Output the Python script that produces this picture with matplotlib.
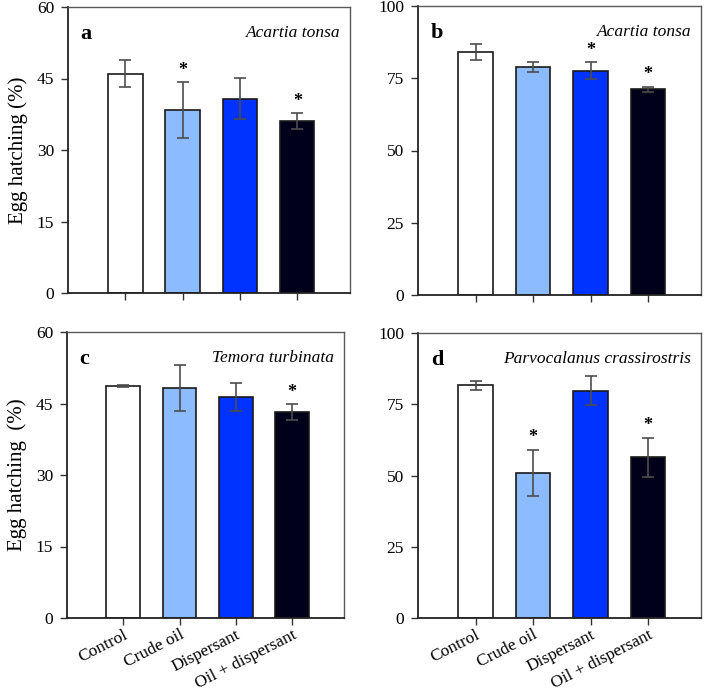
import matplotlib
matplotlib.use("Agg")
import matplotlib.pyplot as plt
import numpy as np

plt.rcParams['font.family'] = ['Liberation Serif', 'DejaVu Serif']

categories = ["Control", "Crude oil", "Dispersant", "Oil + dispersant"]
colors = ["#ffffff", "#8dbbff", "#0033ff", "#00001a"]

a_vals = [46.0, 38.4, 40.8, 36.1]
a_err = [2.8, 5.8, 4.3, 1.6]
a_sig = [False, True, False, True]

b_vals = [84.0, 78.9, 77.6, 71.2]
b_err = [2.7, 1.7, 3.0, 0.8]
b_sig = [False, False, True, True]

c_vals = [48.7, 48.2, 46.4, 43.2]
c_err = [0.2, 4.8, 2.9, 1.6]
c_sig = [False, False, False, True]

d_vals = [81.7, 50.9, 79.8, 56.4]
d_err = [1.6, 8.1, 5.0, 6.8]
d_sig = [False, True, False, True]

panels = [
    ("a", "Acartia tonsa", a_vals, a_err, a_sig, 60, [0, 15, 30, 45, 60], "Egg hatching (%)"),
    ("b", "Acartia tonsa", b_vals, b_err, b_sig, 100, [0, 25, 50, 75, 100], None),
    ("c", "Temora turbinata", c_vals, c_err, c_sig, 60, [0, 15, 30, 45, 60], "Egg hatching  (%)"),
    ("d", "Parvocalanus crassirostris", d_vals, d_err, d_sig, 100, [0, 25, 50, 75, 100], None),
]

W, H = 708, 694
fig = plt.figure(figsize=(W / 100, H / 100), dpi=100)

boxes = [(68, 7, 350, 293), (418, 6, 701, 295), (67, 332, 344, 618), (418, 333, 701, 618)]

for i, (box, p) in enumerate(zip(boxes, panels)):
    l, t, r, b = box
    ax = fig.add_axes([l / W, 1 - b / H, (r - l) / W, (b - t) / H])
    letter, species, vals, errs, sig, ymax, yticks, ylab = p
    x = np.arange(len(categories))
    ax.bar(x, vals, width=0.6, color=colors, edgecolor="#1a1a1a", linewidth=1.2, zorder=2)
    ax.errorbar(x, vals, yerr=errs, fmt="none", ecolor="#4d4d4d", elinewidth=1.2,
                capsize=4.5, capthick=1.2, zorder=3)
    for xi, v, e, s in zip(x, vals, errs, sig):
        if s:
            ax.text(xi, v + e + ymax * 0.012, "*", ha="center", va="bottom",
                    fontsize=13, fontweight="bold")
    ax.set_xlim(-1.0, 3.92)
    ax.set_ylim(0, ymax)
    ax.set_yticks(yticks)
    ax.set_yticklabels([str(v) for v in yticks], fontsize=12.5)
    ax.set_xticks(x)
    if i >= 2:
        ax.set_xticklabels(categories, rotation=27, ha="right", rotation_mode="anchor",
                           fontsize=12.5)
    else:
        ax.set_xticklabels([])
    ax.tick_params(axis="both", direction="out", length=5, width=1, color="#333333")
    ax.tick_params(axis="x", pad=1.5)
    ax.tick_params(axis="y", pad=5)
    for sp in ["top", "right"]:
        ax.spines[sp].set_color("#5a5a5a")
        ax.spines[sp].set_linewidth(1.0)
    for sp in ["left", "bottom"]:
        ax.spines[sp].set_color("#222222")
        ax.spines[sp].set_linewidth(1.3)
    ax.text(0.045, 0.905, letter, transform=ax.transAxes, fontsize=16, fontweight="bold",
            ha="left", va="center")
    ax.text(0.965, 0.91, species, transform=ax.transAxes, fontsize=12.5, style="italic",
            ha="right", va="center")
    if ylab:
        ax.set_ylabel(ylab, fontsize=15, labelpad=6)

fig.savefig("out.png", dpi=100)
